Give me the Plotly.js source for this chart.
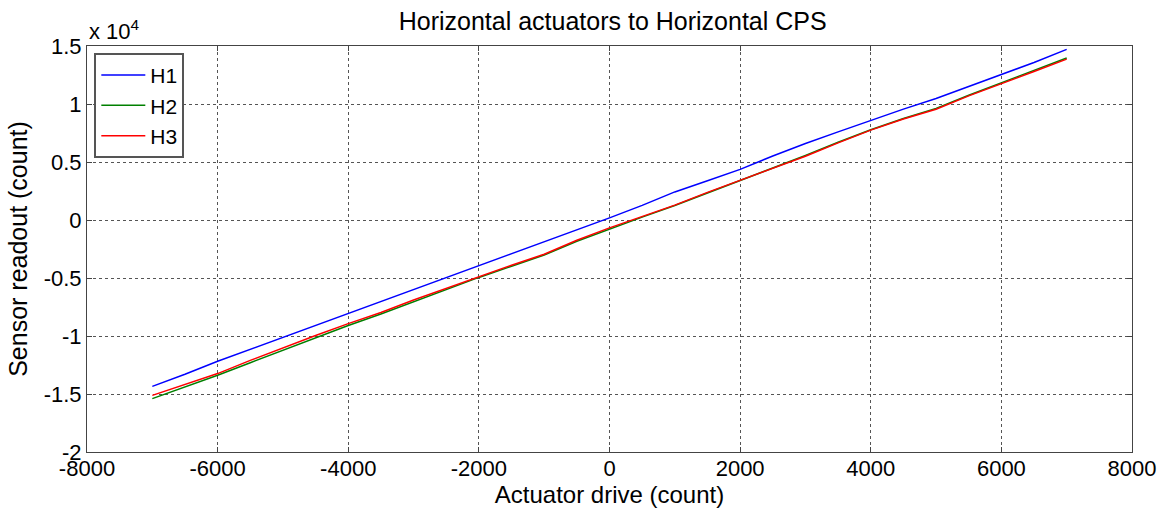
<!DOCTYPE html>
<html>
<head>
<meta charset="utf-8">
<script src="https://cdn.plot.ly/plotly-3.0.1.min.js"></script>
<style>
  html, body { margin: 0; padding: 0; background: #fff; }
  #chart { width: 1167px; height: 510px; }
</style>
</head>
<body>
<div id="chart"></div>
<script>
// actuator drive (count)
let drive = [-7000, -6500, -6000, -5500, -5000, -4500, -4000, -3500, -3000, -2500,
             -2000, -1500, -1000, -500, 0, 500, 1000, 1500, 2000, 2500,
             3000, 3500, 4000, 4500, 5000, 5500, 6000, 6500, 7000];

// sensor readout (count)
let h1 = [-14340, -13300, -12180, -11150, -10140, -9100, -8070, -7080, -6060, -5000,
          -3990, -2950, -1890, -860, 180, 1260, 2420, 3380, 4360, 5520,
          6600, 7600, 8610, 9560, 10480, 11500, 12550, 13580, 14710];
let h2 = [-15400, -14400, -13390, -12300, -11230, -10150, -9100, -8100, -7050, -6000,
          -4950, -3980, -3020, -1830, -760, 250, 1250, 2330, 3400, 4470,
          5560, 6700, 7780, 8750, 9620, 10760, 11830, 12880, 13960];
let h3 = [-15120, -14180, -13240, -12100, -11000, -9960, -8930, -7980, -6900, -5900,
          -4850, -3900, -2950, -1750, -680, 300, 1280, 2380, 3430, 4450,
          5500, 6650, 7750, 8700, 9550, 10700, 11780, 12800, 13870];

let yTickVals = [-20000, -15000, -10000, -5000, 0, 5000, 10000, 15000];
let yTickText = ['-2', '-1.5', '-1', '-0.5', '0', '0.5', '1', '1.5'];
let xTickVals = [-8000, -6000, -4000, -2000, 0, 2000, 4000, 6000, 8000];
let xTickText = ['-8000', '-6000', '-4000', '-2000', '0', '2000', '4000', '6000', '8000'];

let font = 'Liberation Sans, Arial, sans-serif';

let traces = [
    { x: drive, y: h1, mode: 'lines', name: 'H1', line: { color: '#0000ff', width: 1.5 } },
    { x: drive, y: h2, mode: 'lines', name: 'H2', line: { color: '#008000', width: 1.5 } },
    { x: drive, y: h3, mode: 'lines', name: 'H3', line: { color: '#ff0000', width: 1.5 } }
];

let axisCommon = {
    showline: true,
    mirror: 'ticks',
    linecolor: '#444',
    linewidth: 1,
    ticks: 'inside',
    ticklen: 5,
    tickcolor: '#444',
    showgrid: true,
    gridcolor: '#555',
    griddash: '3px,3px',
    gridwidth: 1,
    zeroline: false,
    tickfont: { family: font, size: 22, color: '#000' }
};

let layout = {
    width: 1167,
    height: 510,
    margin: { l: 87, r: 35, t: 46, b: 58 },
    paper_bgcolor: '#fff',
    plot_bgcolor: '#fff',
    font: { family: font, color: '#000' },
    title: {
        text: 'Horizontal actuators to Horizontal CPS',
        font: { family: font, size: 25, color: '#000' },
        x: 0.525, xanchor: 'center',
        yref: 'container', y: 0.958, yanchor: 'middle'
    },
    xaxis: Object.assign({}, axisCommon, {
        range: [-8000, 8000],
        tickvals: xTickVals,
        ticktext: xTickText,
        ticklabelstandoff: -3,
        title: { text: 'Actuator drive (count)', font: { family: font, size: 24 }, standoff: 0 }
    }),
    yaxis: Object.assign({}, axisCommon, {
        range: [-20000, 15000],
        tickvals: yTickVals,
        ticktext: yTickText,
        title: { text: 'Sensor readout (count)', font: { family: font, size: 25 }, standoff: 8 }
    }),
    showlegend: true,
    legend: {
        x: 0.007, xanchor: 'left',
        y: 0.983, yanchor: 'top',
        bgcolor: '#fff',
        bordercolor: '#555',
        borderwidth: 2,
        font: { family: font, size: 21, color: '#000' },
        itemwidth: 44,
        tracegroupgap: 0
    },
    annotations: [{
        text: 'x 10<sup>4</sup>',
        xref: 'paper', yref: 'paper',
        x: 0, y: 1.0,
        xanchor: 'left', yanchor: 'bottom',
        showarrow: false,
        font: { family: font, size: 22, color: '#000' }
    }]
};

Plotly.newPlot('chart', traces, layout, { displayModeBar: false, staticPlot: true });
</script>
</body>
</html>
